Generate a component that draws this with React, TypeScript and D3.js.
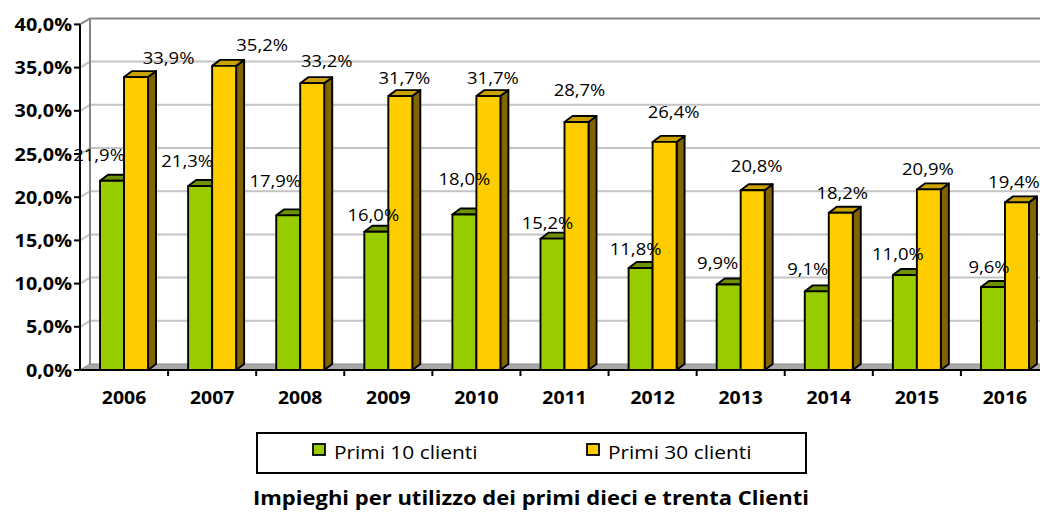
import React from 'react';
import * as d3 from 'd3';

// ---------- DATA ----------
const years = ['2006', '2007', '2008', '2009', '2010', '2011', '2012', '2013', '2014', '2015', '2016'];
const primi10 = [21.9, 21.3, 17.9, 16.0, 18.0, 15.2, 11.8, 9.9, 9.1, 11.0, 9.6];
const primi30 = [33.9, 35.2, 33.2, 31.7, 31.7, 28.7, 26.4, 20.8, 18.2, 20.9, 19.4];
const yTicks = [0, 5, 10, 15, 20, 25, 30, 35, 40];
const seriesNames = ['Primi 10 clienti', 'Primi 30 clienti'];
const chartTitle = 'Impieghi per utilizzo dei primi dieci e trenta Clienti';

// ---------- LAYOUT / STYLE ----------
const W = 1040, H = 512;
const plotLeft = 80, plotRight = 1049, plotBottom = 370, plotTop = 24.4;
const wallDx = 10, wallDy = -6;
const barDx = 8, barDy = -6;
const FONT = '"Open Sans", sans-serif';
const SX = 1.12;
// label nudges (dx, dy) relative to default label spot above each bar
const nudge10 = [[-13, -6], [-13, -4.5], [-13, -14], [-3, 3], [0, -15], [-5, 4], [-5, 1], [-11, -1], [-9, -2], [-7, -1], [-4, 0]];
const nudge30 = [[32.5, 1], [38, -1], [14.5, -2], [4, 1.5], [4.5, 1.5], [3, -12], [9, -10], [4, -4], [1.5, 0], [-1, 0], [-3, 0]];

const colors = {
  g: { front: '#99CC00', top: '#6E9100', side: '#5C7A00' },
  y: { front: '#FFCC00', top: '#C9A200', side: '#7F6400' },
};

const fmt = (v: number, d = 1) => d3.format(`.${d}f`)(v).replace('.', ',') + '%';

function T({ x, y, children, size = 16, weight = 400, anchor = 'middle', sx = SX }: any) {
  return (
    <text transform={`translate(${x},${y}) scale(${sx},1)`} textAnchor={anchor}
      fontFamily={FONT} fontSize={size} fontWeight={weight} fill="#000">{children}</text>
  );
}

function Bar3D({ x, w, yTop, yBase, c }: any) {
  const front = `M${x},${yBase}V${yTop}H${x + w}V${yBase}Z`;
  const top = `M${x},${yTop}L${x + barDx},${yTop + barDy}H${x + w + barDx}L${x + w},${yTop}Z`;
  const side = `M${x + w},${yBase}V${yTop}L${x + w + barDx},${yTop + barDy}V${yBase + barDy}Z`;
  return (
    <g stroke="#000" strokeWidth={1.9} strokeLinejoin="round">
      <path d={side} fill={c.side} />
      <path d={top} fill={c.top} />
      <path d={front} fill={c.front} />
    </g>
  );
}

export default function App() {
  const x = d3.scaleBand<string>().domain(years).range([plotLeft, plotRight]).paddingInner(0).paddingOuter(0);
  const bw = x.bandwidth();
  const inner = d3.scaleBand<string>().domain(['a', 'b']).range([0, bw]).paddingInner(0)
    .paddingOuter((bw / 24 - 2) / 2);
  const y = d3.scaleLinear().domain([0, 40]).range([plotBottom, plotTop]);
  const ibw = inner.bandwidth();

  return (
    <svg width={W} height={H} style={{ position: 'absolute', left: 0, top: 0, background: '#fff' }}>
      {/* left side wall gridlines + back wall gridlines */}
      {yTicks.map((t) => (
        <g key={t}>
          {t > 0 && (
            <path d={`M${plotLeft},${y(t)}L${plotLeft + wallDx},${y(t) + wallDy}H${W + 20}`}
              fill="none" stroke={t === 40 ? '#858585' : '#C4C4C4'} strokeWidth={2} />
          )}
        </g>
      ))}
      {/* back wall left edge */}
      <line x1={plotLeft + wallDx} x2={plotLeft + wallDx} y1={y(40) + wallDy} y2={y(0) + wallDy}
        stroke="#858585" strokeWidth={2} />
      {/* floor */}
      <path d={`M${plotLeft},${y(0)}L${plotLeft + wallDx},${y(0) + wallDy}H${W + 20}L${W + 10},${y(0)}Z`}
        fill="#A8A8A8" stroke="#8a8a8a" strokeWidth={1} />

      {/* bars */}
      {years.map((yr, i) => {
        const bx = x(yr)!;
        return (
          <g key={yr}>
            <Bar3D x={bx + inner('a')!} w={ibw} yTop={y(primi10[i])} yBase={y(0)} c={colors.g} />
            <Bar3D x={bx + inner('b')!} w={ibw} yTop={y(primi30[i])} yBase={y(0)} c={colors.y} />
          </g>
        );
      })}

      {/* axes */}
      <line x1={plotLeft} x2={plotLeft} y1={y(40)} y2={y(0)} stroke="#000" strokeWidth={2} />
      <line x1={plotLeft} x2={W + 10} y1={y(0)} y2={y(0)} stroke="#000" strokeWidth={2} />
      {yTicks.map((t) => (
        <g key={t}>
          <line x1={plotLeft - 6} x2={plotLeft} y1={y(t)} y2={y(t)} stroke="#000" strokeWidth={2} />
          <T x={72} y={y(t) + 6.5} size={18} weight={700} anchor="end" sx={1.1}>{fmt(t)}</T>
        </g>
      ))}
      {years.map((yr, i) => (
        <g key={yr}>
          {i > 0 && <line x1={x(yr)!} x2={x(yr)!} y1={y(0)} y2={y(0) + 6} stroke="#000" strokeWidth={2} />}
          <T x={x(yr)! + bw / 2} y={404} size={18} weight={700} sx={1.08}>{yr}</T>
        </g>
      ))}

      {/* data labels */}
      {years.map((yr, i) => {
        const bx = x(yr)!;
        const ga = bx + inner('a')! + ibw / 2;
        const gb = bx + inner('b')! + ibw / 2;
        return (
          <g key={yr}>
            <T x={ga + nudge10[i][0]} y={y(primi10[i]) - 14 + nudge10[i][1]} size={16.5}>{fmt(primi10[i])}</T>
            <T x={gb + nudge30[i][0]} y={y(primi30[i]) - 14 + nudge30[i][1]} size={16.5}>{fmt(primi30[i])}</T>
          </g>
        );
      })}

      {/* legend */}
      <rect x={257} y={433} width={549} height={40} fill="#fff" stroke="#000" strokeWidth={2} />
      <rect x={313} y={444} width={12} height={11} fill={colors.g.front} stroke="#000" strokeWidth={1.8} />
      <T x={334} y={459} size={18} anchor="start" sx={1.16}>{seriesNames[0]}</T>
      <rect x={587} y={444} width={12} height={11} fill={colors.y.front} stroke="#000" strokeWidth={1.8} />
      <T x={608} y={459} size={18} anchor="start" sx={1.16}>{seriesNames[1]}</T>

      {/* title */}
      <T x={531} y={505} size={20} weight={700} sx={1.1}>{chartTitle}</T>
    </svg>
  );
}
